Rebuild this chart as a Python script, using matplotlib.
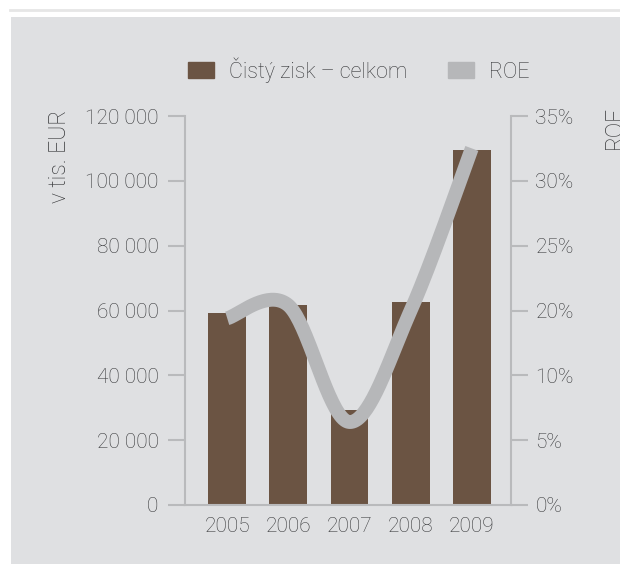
import matplotlib
matplotlib.use("Agg")
import matplotlib.pyplot as plt
import numpy as np
from matplotlib.patches import Patch, Rectangle
from matplotlib.lines import Line2D

# data
years = ["2005", "2006", "2007", "2008", "2009"]
zisk = [59200, 61700, 29300, 62600, 109500]      # v tis. EUR
roe = [18.8, 20.4, 6.4, 20.0, 32.5]               # %

left_ticks = [0, 20000, 40000, 60000, 80000, 100000, 120000]
left_labels = ["0", "20 000", "40 000", "60 000", "80 000", "100 000", "120 000"]
# the right axis is labelled this way in the original (no 15%)
roe_tick_vals = [0, 5, 10, 20, 25, 30, 35]
roe_labels = ["0%", "5%", "10%", "20%", "25%", "30%", "35%"]

brown = "#6b5443"
grey_line = "#b6b7b9"
axis_col = "#b9babc"
txt = "#38393b"
panel = "#dfe0e2"

plt.rcParams['font.family'] = ['Roboto', 'DejaVu Sans']
plt.rcParams['font.size'] = 15
plt.rcParams['font.weight'] = 'light'
plt.rcParams['axes.labelweight'] = 'light'

fig = plt.figure(figsize=(6.2, 5.64), dpi=100)
fig.patch.set_facecolor("white")
fig.patches.append(Rectangle((11/620, 0), 609/620, 1 - 17/564, transform=fig.transFigure,
                             facecolor=panel, edgecolor="none", zorder=-5))
fig.lines.append(Line2D([10/620, 1], [1 - 10/564] * 2, transform=fig.transFigure,
                        color="#e6e6e6", lw=2, zorder=-5))

ax = fig.add_axes([185/620, 1 - 505/564, 326/620, 389/564])
ax.set_facecolor("none")
x = np.arange(len(years))
ax.bar(x, zisk, width=0.62, color=brown, zorder=2)
ax.set_xlim(-0.69, 4.64)
ax.set_ylim(0, 120000)
ax.set_yticks(left_ticks)
ax.set_yticklabels(left_labels, color=txt)
ax.set_xticks(x)
ax.set_xticklabels(years, color=txt)
ax.tick_params(axis="x", length=0, pad=9)
ax.tick_params(axis="y", length=12, width=1.5, color=axis_col, pad=7)
for s in ["top", "right"]:
    ax.spines[s].set_visible(False)
for s in ["left", "bottom"]:
    ax.spines[s].set_color(axis_col)
    ax.spines[s].set_linewidth(1.5)
ax.set_ylabel("v tis. EUR", color=txt, fontsize=16.5)
ax.yaxis.set_label_coords(-0.35, 0.897)

ax2 = ax.twinx()
ax2.set_ylim(0, 6)
ax2.set_yticks(range(7))
ax2.set_yticklabels(roe_labels, color=txt)
ax2.tick_params(axis="y", length=12, width=1.5, color=axis_col, pad=5.5)
for s in ["top", "left", "bottom"]:
    ax2.spines[s].set_visible(False)
ax2.spines["right"].set_color(axis_col)
ax2.spines["right"].set_linewidth(1.5)
ax2.set_ylabel("ROE", color=txt, fontsize=16.5, rotation=90)
ax2.yaxis.set_label_coords(1.283, 0.97)

# ROE on the tick scale, smoothed like the original (Catmull-Rom)
ry = np.interp(roe, roe_tick_vals, range(7))
pts = np.column_stack([x, ry])
ext = np.vstack([pts[0], pts, pts[-1]])
cx, cy = [], []
for i in range(len(pts) - 1):
    p0, p1, p2, p3 = ext[i], ext[i + 1], ext[i + 2], ext[i + 3]
    t = np.linspace(0, 1, 40)[:, None]
    seg = 0.5 * ((2 * p1) + (-p0 + p2) * t + (2 * p0 - 5 * p1 + 4 * p2 - p3) * t ** 2
                 + (-p0 + 3 * p1 - 3 * p2 + p3) * t ** 3)
    cx.extend(seg[:, 0]); cy.extend(seg[:, 1])
ax2.plot(cx, cy, color=grey_line, lw=10, solid_capstyle="butt", zorder=3)

handles = [Patch(color=brown), Patch(color=grey_line)]
fig.legend(handles, ["Čistý zisk – celkom", "ROE"], loc="center",
           bbox_to_anchor=(359/620, 1 - 70/564), ncol=2, frameon=False,
           handlelength=1.2, handleheight=0.75, handletextpad=0.7, columnspacing=1.9,
           labelcolor=txt, prop={"size": 15.5, "weight": "light"})

fig.savefig("out.png", dpi=100, facecolor=fig.get_facecolor())
